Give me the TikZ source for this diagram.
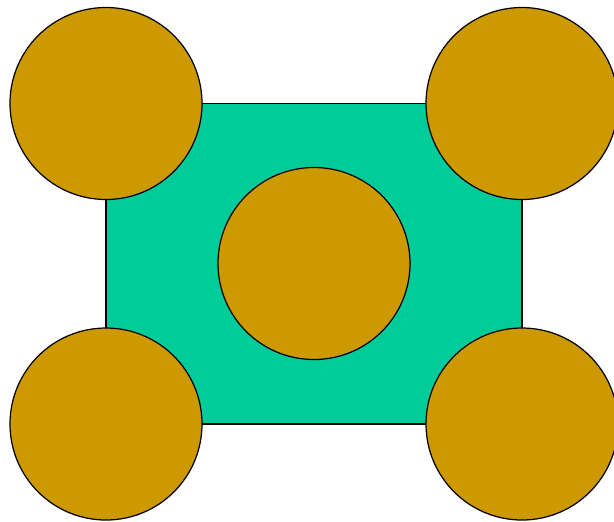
\documentclass[tikz,border=0pt]{standalone}
\definecolor{tealfill}{HTML}{00CC99}
\definecolor{goldfill}{HTML}{CC9900}
\begin{document}
\begin{tikzpicture}[x=0.02cm, y=-0.02cm]
        \useasboundingbox (0,0) rectangle (614,521);
        \clip (0,0) rectangle (614,521);
        \draw[fill=tealfill, line width=0.7pt] (106,103.5) rectangle (522,424);

        \draw[fill=goldfill, line width=0.7pt] (106,103.5) circle[radius=96];
        \draw[fill=goldfill, line width=0.7pt] (522,103.5) circle[radius=96];
        \draw[fill=goldfill, line width=0.7pt] (106,424) circle[radius=96];
        \draw[fill=goldfill, line width=0.7pt] (522,424) circle[radius=96];
        \draw[fill=goldfill, line width=0.7pt] (314,263.5) circle[radius=96];
    \end{tikzpicture}
\end{document}
